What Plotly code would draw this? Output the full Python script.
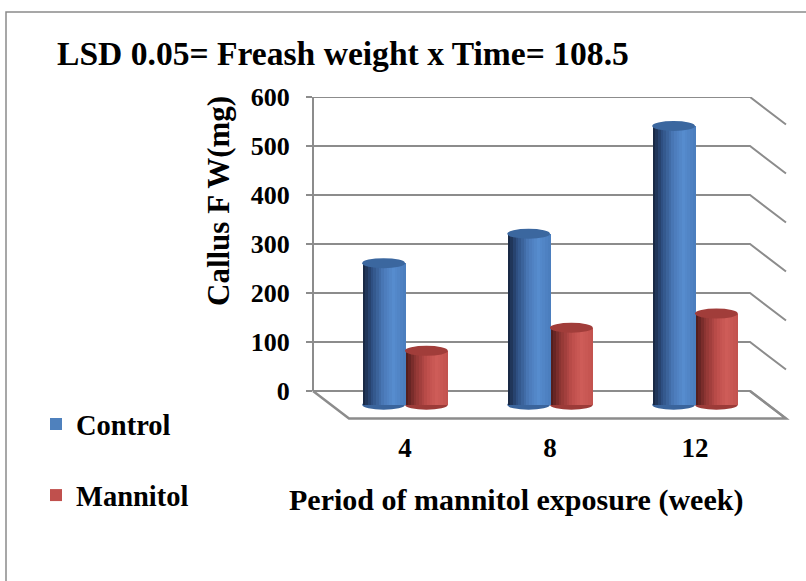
import plotly.graph_objects as go

# ---------------- data ----------------
PERIODS = ["4", "8", "12"]
CONTROL = [289, 349, 569]
MANNITOL = [110, 157, 186]
SERIES = ["Control", "Mannitol"]
Y_TICKS = [0, 100, 200, 300, 400, 500, 600]
TITLE = "LSD 0.05= Freash weight x Time= 108.5"
Y_TITLE = "Callus F W(mg)"
X_TITLE = "Period of mannitol exposure (week)"

# ---------------- layout geometry (pixels) ----------------
W, H = 806, 581
def px(x): return x / W
def py(y): return 1 - y / H

WALL_L, WALL_R = 313, 750          # back wall horizontal extent
WALL_Y0, WALL_Y600 = 391, 97       # pixel of 0 and 600 on back wall
PPU = (WALL_Y0 - WALL_Y600) / 600  # pixels per unit
DX, DY = 36, 27.5                  # depth offset of floor front
DYU = DY / PPU
BAR_DX, BAR_DY = DX / 2, DY / 2    # bars sit at mid depth
Y_LO = -70                         # room below zero for the floor

FONT = "Liberation Serif"
GRID = "#8c8c8c"

BW = 0.295
OFFS = [-BW, 0.0]
BASE_COL = ["#4F81BD", "#C0504D"]
TOP_COL = ["#3b679f", "#a13d3a"]
BOT_COL = ["#3a649c", "#9c3b38"]
STOPS = [
    [(0.0, (22, 34, 58)), (0.2, (44, 76, 126)), (0.5, (75, 123, 186)), (0.72, (86, 140, 206)), (1.0, (74, 124, 188))],
    [(0.0, (74, 26, 25)), (0.2, (136, 50, 48)), (0.5, (190, 78, 75)), (0.72, (206, 92, 88)), (1.0, (194, 82, 78))],
]

def grad(stops, t):
    for (t0, c0), (t1, c1) in zip(stops[:-1], stops[1:]):
        if t0 <= t <= t1:
            f = (t - t0) / (t1 - t0) if t1 > t0 else 0
            c = [round(a + (b - a) * f) for a, b in zip(c0, c1)]
            return "rgb(%d,%d,%d)" % tuple(c)
    return "rgb(%d,%d,%d)" % stops[-1][1]

fig = go.Figure()
xs = list(range(len(PERIODS)))
vals = [CONTROL, MANNITOL]
N = 16
for s, name in enumerate(SERIES):
    fig.add_trace(go.Bar(x=xs, y=vals[s], name=name, marker=dict(color=BASE_COL[s], line=dict(width=0)),
                         width=BW, offset=OFFS[s], xaxis="x2", yaxis="y2",
                         legendgroup=name, showlegend=True))
    for k in range(N):
        t = (k + 0.5) / N
        fig.add_trace(go.Bar(x=xs, y=vals[s], marker=dict(color=grad(STOPS[s], t), line=dict(width=0)),
                             width=BW / N * 1.05, offset=OFFS[s] + k * BW / N, xaxis="x2", yaxis="y2",
                             showlegend=False, hoverinfo="skip", legendgroup=name))

shapes = []
# back-wall gridlines with side-wall diagonals
for v in Y_TICKS:
    shapes.append(dict(type="path", xref="paper", yref="y", layer="below",
                       path="M%f,%f L%f,%f L%f,%f" % (px(WALL_L), v, px(WALL_R), v, px(WALL_R + DX), v - DYU),
                       line=dict(color=GRID, width=2)))
# left wall edge
shapes.append(dict(type="line", xref="paper", yref="y", layer="below",
                   x0=px(WALL_L), x1=px(WALL_L), y0=Y_TICKS[0], y1=Y_TICKS[-1],
                   line=dict(color=GRID, width=2)))
# floor
shapes.append(dict(type="path", xref="paper", yref="y", layer="below",
                   path="M%f,%f L%f,%f L%f,%f L%f,%f" % (px(WALL_L), 0, px(WALL_L + DX), -DYU,
                                                       px(WALL_R + DX), -DYU, px(WALL_R), 0),
                   line=dict(color=GRID, width=2.5)))
# cylinder caps
ELL = 5 / PPU
for s in range(2):
    for i, v in enumerate(vals[s]):
        x0, x1 = i + OFFS[s], i + OFFS[s] + BW
        shapes.append(dict(type="circle", xref="x2", yref="y2", layer="below",
                           x0=x0, x1=x1, y0=-ELL, y1=ELL, fillcolor=BOT_COL[s], line=dict(width=0)))
        shapes.append(dict(type="circle", xref="x2", yref="y2", layer="above",
                           x0=x0, x1=x1, y0=v - ELL, y1=v + ELL, fillcolor=TOP_COL[s], line=dict(width=0)))
# outer frame
shapes.append(dict(type="rect", xref="paper", yref="paper", x0=px(6), x1=px(830), y0=py(600), y1=py(12),
                   line=dict(color="#8a8a8a", width=1.5), fillcolor="rgba(0,0,0,0)"))

bar_bottom_px = WALL_Y0 + BAR_DY + 20 * PPU
bar_top_px = WALL_Y0 + BAR_DY - 620 * PPU
cat_w = 145
x2_l = 405 - cat_w / 2
x2_r = 695 + cat_w / 2

fig.update_layout(
    template="none",
    width=W, height=H, margin=dict(l=0, r=0, t=0, b=0, pad=0, autoexpand=False),
    paper_bgcolor="white", plot_bgcolor="rgba(0,0,0,0)",
    barmode="overlay", bargap=0,
    font=dict(family=FONT, color="black", weight="bold"),
    title=dict(text=TITLE, x=px(57), xanchor="left", y=py(53), yanchor="middle", xref="paper", yref="paper",
               font=dict(family=FONT, size=33.6, weight="bold", color="black")),
    xaxis=dict(domain=[px(WALL_L), px(WALL_R)], range=[0, 1], visible=False, automargin=False),
    yaxis=dict(domain=[py(WALL_Y0 - Y_LO * PPU), py(WALL_Y600)], range=[Y_LO, 600], anchor="x", automargin=False,
               tickvals=Y_TICKS, ticktext=[str(v) for v in Y_TICKS], showgrid=False, zeroline=False,
               showline=False, ticks="outside", ticklen=6, tickwidth=2,
               tickcolor=GRID, ticklabelstandoff=11,
               tickfont=dict(family=FONT, size=26, weight="bold", color="black")),
    xaxis2=dict(domain=[px(x2_l), px(x2_r)], range=[-0.5, 2.5], anchor="y2", automargin=False,
                tickvals=xs, ticktext=PERIODS, showgrid=False, zeroline=False, showline=False,
                ticks="", ticklabelstandoff=14,
                tickfont=dict(family=FONT, size=27, weight="bold", color="black")),
    yaxis2=dict(domain=[py(bar_bottom_px), py(bar_top_px)], range=[-20, 620], anchor="x2", visible=False,
                automargin=False),
    legend=dict(x=px(36), y=py(399), xanchor="left", yanchor="top", tracegroupgap=31,
                font=dict(family=FONT, size=28.5, weight="bold", color="black"),
                bgcolor="rgba(0,0,0,0)", borderwidth=0, itemclick=False),
    shapes=shapes,
    annotations=[
        dict(text=Y_TITLE, x=px(219), y=py(201), xref="paper", yref="paper", textangle=-90, showarrow=False,
             xanchor="center", yanchor="middle",
             font=dict(family=FONT, size=31, weight="bold", color="black")),
        dict(text=X_TITLE, x=px(515.5), y=py(500), xref="paper", yref="paper", showarrow=False,
             xanchor="center", yanchor="middle",
             font=dict(family=FONT, size=30, weight="bold", color="black")),
    ],
)

fig.write_html("out.html")
